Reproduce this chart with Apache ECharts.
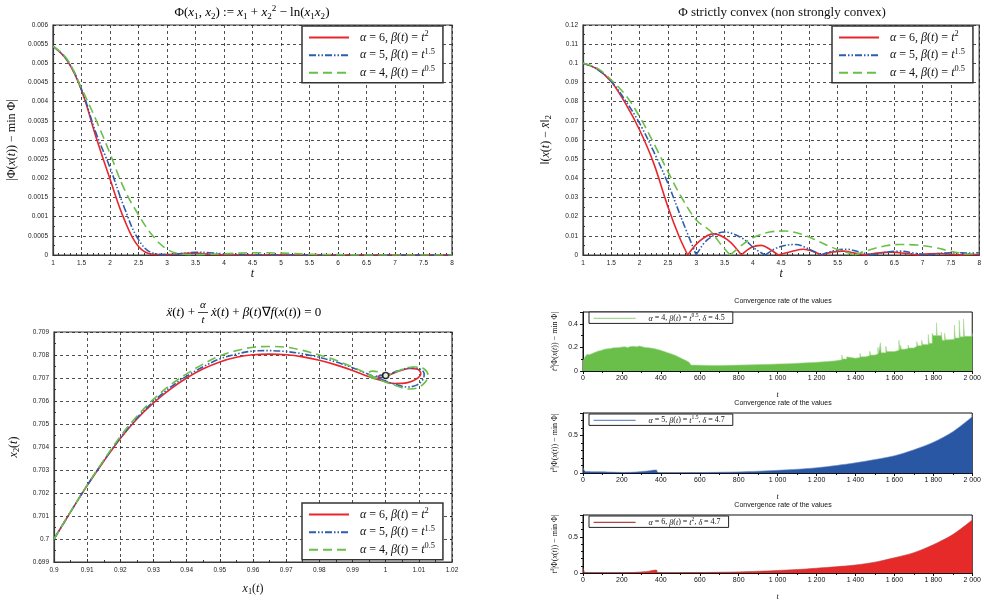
<!DOCTYPE html>
<html>
<head>
<meta charset="utf-8">
<title>Convergence figures</title>
<script src="https://cdn.jsdelivr.net/npm/echarts@6/dist/echarts.min.js"></script>
<style>
  html, body { margin: 0; padding: 0; background: #fff; }
  #main { width: 984px; height: 602px; }
</style>
</head>
<body>
<div id="main"></div>
<script>
// ---------- data ----------
// top left: |Phi(x(t)) - min Phi|
const tPhi = [1, 1.25, 1.5, 1.75, 2, 2.25, 2.5, 2.75, 3, 3.25, 3.5, 3.75, 4, 4.5, 5, 5.5, 6, 6.5, 7, 7.5, 8];
const phiRed = [0.00545, 0.00507, 0.0043, 0.0031, 0.00198, 0.00093, 0.00022, 0.00002, 0.00001, 0.00004, 0.00005, 0.00002, 0, 0, 0, 0, 0, 0, 0, 0, 0];
const phiBlue = [0.00545, 0.00508, 0.00432, 0.0032, 0.00228, 0.00124, 0.0004, 0.00005, 0.00001, 0.00004, 0.00007, 0.00006, 0.00003, 0.00001, 0, 0, 0, 0, 0, 0, 0];
const phiGreen = [0.00545, 0.0051, 0.00435, 0.00354, 0.00265, 0.00172, 0.00105, 0.0005, 0.00015, 0.00003, 0.00001, 0.00002, 0.00003, 0.00006, 0.00005, 0.00002, 0.00001, 0, 0, 0, 0];

// top right: ||x(t) - xbar||_2 (zeros are cusps)
const tDistRed = [1, 1.25, 1.5, 1.75, 2, 2.25, 2.5, 2.7, 2.85, 3.05, 3.3, 3.55, 3.8, 3.98, 4.15, 4.3, 4.45, 4.7, 4.9, 5.05, 5.22, 5.4, 5.6, 5.8, 6.0, 6.2, 6.45, 6.7, 6.9, 7.1, 7.3, 7.5, 7.7, 7.9, 8];
const distRed = [0.1, 0.097, 0.0904, 0.0791, 0.0652, 0.0478, 0.0252, 0.0095, 0, 0.007, 0.011, 0.008, 0, 0.004, 0.005, 0.003, 0, 0.002, 0.003, 0.002, 0, 0.0015, 0.002, 0.001, 0, 0.001, 0.0015, 0.0008, 0, 0.0006, 0.0008, 0.0004, 0, 0.0003, 0.0003];
const tDistBlue = [1, 1.25, 1.5, 1.75, 2, 2.25, 2.5, 2.75, 3.0, 3.2, 3.5, 3.8, 4.05, 4.22, 4.45, 4.75, 5.0, 5.2, 5.4, 5.65, 5.9, 6.1, 6.35, 6.6, 6.85, 7.1, 7.35, 7.6, 7.8, 8];
const distBlue = [0.1, 0.097, 0.0906, 0.0805, 0.0687, 0.0539, 0.0374, 0.0183, 0, 0.008, 0.012, 0.009, 0.003, 0, 0.004, 0.0055, 0.003, 0, 0.002, 0.003, 0.0015, 0, 0.0015, 0.002, 0.001, 0, 0.001, 0.0012, 0.001, 0.0012];
const tDistGreen = [1, 1.25, 1.5, 1.75, 2, 2.25, 2.5, 2.75, 3.0, 3.25, 3.45, 3.6, 3.8, 4.0, 4.3, 4.57, 4.85, 5.1, 5.4, 5.8, 6.1, 6.35, 6.6, 6.9, 7.2, 7.5, 7.8, 8];
const distGreen = [0.1, 0.0975, 0.0913, 0.0835, 0.0722, 0.0583, 0.0435, 0.0296, 0.0183, 0.0125, 0.005, 0, 0.005, 0.009, 0.012, 0.0125, 0.011, 0.008, 0.004, 0, 0.003, 0.0048, 0.0055, 0.0052, 0.004, 0.002, 0.0005, 0.001];

// bottom left: trajectories (x1(t), x2(t))
const x1Red = [0.9, 0.905, 0.91, 0.915, 0.92, 0.925, 0.93, 0.935, 0.94, 0.945, 0.95, 0.955, 0.96, 0.965, 0.97, 0.975, 0.98, 0.985, 0.99, 0.995, 0.9985, 1.0026, 1.0066, 1.0091, 1.0106, 1.0096, 1.0071, 1.0041, 1.0006, 0.9985, 0.9978, 0.9992, 1.0];
const x2Red = [0.7, 0.70118, 0.70232, 0.70338, 0.70437, 0.70522, 0.70592, 0.70651, 0.707, 0.7074, 0.7077, 0.7079, 0.70801, 0.70804, 0.70801, 0.70792, 0.70777, 0.70757, 0.70733, 0.70705, 0.7069, 0.70676, 0.7068, 0.70694, 0.70719, 0.70738, 0.70741, 0.7073, 0.70711, 0.70702, 0.70706, 0.70713, 0.70711];
const x1Blue = [0.9, 0.905, 0.91, 0.915, 0.92, 0.925, 0.93, 0.935, 0.94, 0.945, 0.95, 0.955, 0.96, 0.965, 0.97, 0.975, 0.98, 0.985, 0.99, 0.995, 0.999, 1.003, 1.0066, 1.0095, 1.0113, 1.0116, 1.0105, 1.008, 1.0045, 1.001, 0.998, 0.9965, 0.998, 1.0];
const x2Blue = [0.7, 0.70118, 0.70233, 0.7034, 0.7044, 0.70526, 0.70598, 0.70659, 0.70708, 0.70749, 0.70783, 0.70804, 0.70817, 0.70819, 0.70815, 0.70805, 0.7079, 0.7077, 0.70745, 0.70715, 0.70692, 0.70672, 0.70661, 0.7067, 0.70695, 0.70719, 0.70738, 0.70745, 0.70735, 0.70716, 0.707, 0.707, 0.70712, 0.70711];
const x1Green = [0.9, 0.905, 0.91, 0.915, 0.92, 0.925, 0.93, 0.935, 0.94, 0.945, 0.95, 0.955, 0.96, 0.965, 0.97, 0.975, 0.98, 0.985, 0.99, 0.995, 0.999, 1.003, 1.007, 1.0095, 1.0118, 1.0128, 1.0115, 1.0085, 1.0045, 1.0, 0.9965, 0.9945, 0.996, 0.999, 1.0];
const x2Green = [0.7, 0.70119, 0.70235, 0.70343, 0.70446, 0.70534, 0.70608, 0.70669, 0.70718, 0.70761, 0.70796, 0.70819, 0.70834, 0.70837, 0.70834, 0.7082, 0.708, 0.70777, 0.70748, 0.70715, 0.70688, 0.70667, 0.70652, 0.70656, 0.7068, 0.7071, 0.7074, 0.70748, 0.70735, 0.70708, 0.70698, 0.70718, 0.7073, 0.70722, 0.70711];
const limitPoint = [1.0, 0.70711];

// bottom right: t^delta |Phi(x(t)) - min Phi|
const tRateGreen = [0, 10, 20, 35, 50, 65, 80, 95, 110, 125, 140, 155, 170, 185, 200, 215, 230, 245, 260, 275, 290, 305, 320, 335, 350, 365, 380, 395, 410, 425, 440, 455, 470, 485, 500, 515, 530, 545, 555, 575, 620, 680, 740, 800, 860, 900, 960, 1000, 1050, 1100, 1150, 1200, 1250, 1297, 1300, 1330, 1334, 1355, 1359, 1400, 1423, 1427, 1450, 1473, 1478, 1500, 1515, 1519, 1528, 1532, 1556, 1561, 1600, 1623, 1628, 1632, 1636, 1650, 1670, 1675, 1700, 1715, 1720, 1740, 1745, 1774, 1779, 1794, 1800, 1816, 1820, 1841, 1846, 1858, 1863, 1880, 1908, 1913, 1933, 1938, 1955, 1960, 2000];
const rateGreen = [0.08, 0.12, 0.14, 0.15, 0.16, 0.17, 0.175, 0.185, 0.188, 0.19, 0.196, 0.198, 0.2, 0.203, 0.205, 0.2, 0.208, 0.21, 0.205, 0.212, 0.205, 0.2, 0.198, 0.194, 0.19, 0.184, 0.178, 0.17, 0.162, 0.153, 0.145, 0.135, 0.124, 0.112, 0.1, 0.088, 0.075, 0.062, 0.05, 0.048, 0.047, 0.048, 0.05, 0.052, 0.055, 0.057, 0.06, 0.062, 0.066, 0.07, 0.074, 0.08, 0.086, 0.1, 0.095, 0.135, 0.102, 0.12, 0.108, 0.115, 0.15, 0.12, 0.13, 0.168, 0.135, 0.145, 0.2, 0.15, 0.24, 0.155, 0.21, 0.165, 0.175, 0.26, 0.18, 0.22, 0.185, 0.19, 0.22, 0.195, 0.21, 0.25, 0.215, 0.26, 0.225, 0.31, 0.235, 0.32, 0.3, 0.41, 0.3, 0.33, 0.26, 0.32, 0.265, 0.27, 0.39, 0.28, 0.43, 0.29, 0.44, 0.295, 0.32];
const tRate = [0, 3, 8, 15, 50, 100, 150, 200, 250, 300, 340, 370, 378, 382, 390, 450, 500, 600, 700, 800, 900, 1000, 1100, 1200, 1300, 1400, 1500, 1600, 1700, 1800, 1900, 2000];
const rateBlue = [0.07, 0.07, 0.03, 0.02, 0.018, 0.016, 0.012, 0.008, 0.01, 0.02, 0.03, 0.04, 0.04, 0.015, 0.005, 0.004, 0.004, 0.006, 0.01, 0.015, 0.024, 0.036, 0.05, 0.07, 0.1, 0.136, 0.18, 0.23, 0.31, 0.41, 0.55, 0.75];
const rateRed = [0.07, 0.07, 0.01, 0.005, 0.005, 0.004, 0.004, 0.004, 0.006, 0.015, 0.025, 0.04, 0.04, 0.01, 0.003, 0.003, 0.004, 0.006, 0.01, 0.015, 0.024, 0.035, 0.048, 0.066, 0.086, 0.11, 0.15, 0.21, 0.28, 0.39, 0.53, 0.73];

const seriesNames = ['α = 6, β(t) = t^2', 'α = 5, β(t) = t^1.5', 'α = 4, β(t) = t^0.5'];
const alphas = ['6', '5', '4'];
const betaExps = ['2', '1.5', '0.5'];
const rateNames = ['α = 4, β(t) = t^0.5, δ = 4.5', 'α = 5, β(t) = t^1.5, δ = 4.7', 'α = 6, β(t) = t^2, δ = 4.7'];
const deltas = ['4.5', '4.7', '4.7'];
const rateAlphaIdx = [2, 1, 0];

// ---------- styling ----------
const SERIF = 'Liberation Serif';
const SANS = 'Liberation Sans';
const RED = '#e8262c', BLUE = '#2d5eae', GREEN = '#6abf4a';
const lineColors = [RED, BLUE, GREEN];
const lineDash = ['solid', [7, 2, 1.5, 2, 1.5, 2], [9, 5]];

function math(size) {
  return {
    i: { fontFamily: SERIF, fontStyle: 'italic', fontSize: size, color: '#111' },
    r: { fontFamily: SERIF, fontSize: size, color: '#111' },
    sub: { fontFamily: SERIF, fontSize: size * 0.7, padding: [size * 0.5, 0, 0, 0], color: '#111' },
    sup: { fontFamily: SERIF, fontSize: size * 0.7, padding: [0, 0, size * 0.6, 0], color: '#111' },
    isup: { fontFamily: SERIF, fontStyle: 'italic', fontSize: size * 0.7, padding: [0, 0, size * 0.6, 0], color: '#111' }
  };
}

function legendText(i) {
  return '{i|α}{r| = ' + alphas[i] + ', }{i|β}{r|(}{i|t}{r|) = }{i|t}{sup|' + betaExps[i] + '}';
}
function rateText(k) {
  const i = rateAlphaIdx[k];
  return '{i|α}{r| = ' + alphas[i] + ', }{i|β}{r|(}{i|t}{r|) = }{i|t}{sup|' + betaExps[i] + '}{r|, }{i|δ}{r| = ' + deltas[k] + '}';
}

const pairs = (xs, ys) => xs.map((x, i) => [x, ys[i]]);
// break the line at each zero so the |.| cusps stay sharp
function cusps(xs, ys) {
  const out = [];
  ys.forEach((y, i) => {
    out.push([xs[i], y]);
    if (y === 0 && i > 0 && i < ys.length - 1) {
      out.push([xs[i], '-']);
      out.push([xs[i], y]);
    }
  });
  return out;
}
const spaced = v => String(v).replace(/\B(?=(\d{3})+(?!\d))/g, ' ');

const FRAME = '#3a3a3a';
const gridLine = { show: true, lineStyle: { type: [3, 3], color: '#222', width: 0.8 } };

function topAxis(gridIndex, min, max, interval, minorSplit, name, nameGap) {
  return {
    gridIndex, type: 'value', min, max, interval,
    axisLine: { show: true, onZero: false, lineStyle: { color: FRAME, width: 1.2 } },
    axisTick: { show: true, inside: true, length: 3, lineStyle: { color: '#333' } },
    minorTick: { show: true, splitNumber: minorSplit, length: 2, lineStyle: { color: '#333' } },
    axisLabel: { fontFamily: SANS, fontSize: 6.5, color: '#222', margin: 5 },
    splitLine: gridLine,
    name, nameLocation: 'middle', nameGap,
    nameTextStyle: { rich: math(12) }
  };
}

function rateXAxis(gridIndex) {
  return {
    gridIndex, type: 'value', min: 0, max: 2000, interval: 200,
    axisLine: { show: true, onZero: false, lineStyle: { color: '#111', width: 1 } },
    axisTick: { show: true, length: 3, lineStyle: { color: '#111' } },
    minorTick: { show: true, splitNumber: 2, length: 2, lineStyle: { color: '#111' } },
    axisLabel: { fontFamily: SANS, fontSize: 7, color: '#111', margin: 4, formatter: spaced },
    splitLine: { show: false },
    name: '{i|t}', nameLocation: 'middle', nameGap: 20,
    nameTextStyle: { rich: math(8) }
  };
}
function rateYAxis(gridIndex, max, interval, minorSplit) {
  return {
    gridIndex, type: 'value', min: 0, max, interval,
    axisLine: { show: true, onZero: false, lineStyle: { color: '#111', width: 1 } },
    axisTick: { show: true, length: 3, lineStyle: { color: '#111' } },
    minorTick: { show: true, splitNumber: minorSplit, length: 2, lineStyle: { color: '#111' } },
    axisLabel: { fontFamily: SANS, fontSize: 7, color: '#111', margin: 5, showMaxLabel: false },
    splitLine: { show: false },
    name: '{i|t}{isup|δ}{r||Φ(}{i|x}{r|(}{i|t}{r|)) − min Φ|}',
    nameLocation: 'middle', nameGap: 23,
    nameTextStyle: { rich: math(8) }
  };
}

const bigGrid = { show: true, borderColor: FRAME, borderWidth: 1.2, backgroundColor: '#fff' };
const smallGrid = { show: true, borderColor: '#111', borderWidth: 1, backgroundColor: '#fff' };

const grids = [
  Object.assign({ left: 53, top: 25, width: 399, height: 230 }, bigGrid),
  Object.assign({ left: 583, top: 25, width: 399, height: 230 }, bigGrid),
  Object.assign({ left: 54, top: 332, width: 398, height: 230 }, bigGrid),
  Object.assign({ left: 583, top: 312, width: 400, height: 59 }, smallGrid),
  Object.assign({ left: 583, top: 413, width: 400, height: 60 }, smallGrid),
  Object.assign({ left: 583, top: 515, width: 400, height: 61 }, smallGrid)
];

const xAxes = [
  topAxis(0, 1, 8, 0.5, 5, '{i|t}', 13),
  topAxis(1, 1, 8, 0.5, 5, '{i|t}', 13),
  topAxis(2, 0.9, 1.02, 0.01, 2, '{i|x}{sub|1}{r|(}{i|t}{r|)}', 20),
  rateXAxis(3), rateXAxis(4), rateXAxis(5)
];
const yAxes = [
  topAxis(0, 0, 0.006, 0.0005, 2, '{r||Φ(}{i|x}{r|(}{i|t}{r|)) − min Φ|}', 35),
  topAxis(1, 0, 0.12, 0.01, 2, '{r|‖(}{i|x}{r|(}{i|t}{r|) − }{i|x̄}{r|‖}{sub|2}', 30),
  topAxis(2, 0.699, 0.709, 0.001, 2, '{i|x}{sub|2}{r|(}{i|t}{r|)}', 33),
  rateYAxis(3, 0.5, 0.2, 2), rateYAxis(4, 0.8, 0.5, 5), rateYAxis(5, 0.8, 0.5, 5)
];

function curve(idx, axis, data, smooth) {
  return {
    name: seriesNames[idx], type: 'line', xAxisIndex: axis, yAxisIndex: axis,
    data, smooth, symbol: 'none', connectNulls: false, z: 3 + idx,
    lineStyle: { color: lineColors[idx], width: 1.6, type: lineDash[idx] },
    itemStyle: { color: lineColors[idx] }
  };
}
function rateSeries(k, axis, data, fill, legendLine, step, smooth) {
  return {
    name: rateNames[k], type: 'line', xAxisIndex: axis, yAxisIndex: axis,
    data, symbol: 'none', step, smooth,
    lineStyle: { color: legendLine, width: 0.6 },
    itemStyle: { color: legendLine },
    areaStyle: { color: fill, opacity: 1 }
  };
}

const series = [
  curve(0, 0, pairs(tPhi, phiRed), 0.4),
  curve(1, 0, pairs(tPhi, phiBlue), 0.4),
  curve(2, 0, pairs(tPhi, phiGreen), 0.4),
  curve(0, 1, cusps(tDistRed, distRed), 0.35),
  curve(1, 1, cusps(tDistBlue, distBlue), 0.35),
  curve(2, 1, cusps(tDistGreen, distGreen), 0.35),
  curve(0, 2, pairs(x1Red, x2Red), 0.35),
  curve(1, 2, pairs(x1Blue, x2Blue), 0.35),
  curve(2, 2, pairs(x1Green, x2Green), 0.35),
  {
    type: 'scatter', xAxisIndex: 2, yAxisIndex: 2, data: [limitPoint], z: 10,
    symbol: 'circle', symbolSize: 6,
    itemStyle: { color: '#fff', borderColor: '#000', borderWidth: 1.5 }
  },
  rateSeries(0, 3, pairs(tRateGreen, rateGreen), GREEN, '#a6d894', 'end', false),
  rateSeries(1, 4, pairs(tRate, rateBlue), '#2a57a3', '#7090c8', false, 0.3),
  rateSeries(2, 5, pairs(tRate, rateRed), '#e62a2a', '#b34444', false, 0.3)
];

// hide the legend's symbol marker, keep only the line sample
const noMarker = { color: 'transparent', borderColor: 'transparent', borderWidth: 0, opacity: 0 };

const bigLegend = (left, top) => ({
  data: seriesNames.slice(), left, top, orient: 'vertical',
  backgroundColor: '#fff', borderColor: '#333', borderWidth: 1.5,
  padding: [4, 8, 4, 6], itemGap: 4, itemWidth: 40, itemHeight: 14,
  selectedMode: false,
  itemStyle: noMarker,
  formatter: name => legendText(seriesNames.indexOf(name)),
  textStyle: { rich: math(12), padding: [0, 0, 0, 6] }
});
const smallLegend = (k, left, top) => ({
  data: [rateNames[k]], left, top, orient: 'vertical',
  backgroundColor: '#fff', borderColor: '#222', borderWidth: 1,
  padding: [1, 8, 1, 4], itemWidth: 42, itemHeight: 10,
  selectedMode: false,
  itemStyle: noMarker,
  lineStyle: { width: 1.2 },
  formatter: () => rateText(k),
  textStyle: { rich: math(8), padding: [0, 0, 0, 8] }
});

const titleRich = math(13);
const graphic = [
  { type: 'text', x: 252, y: 13, style: {
      text: '{r|Φ(}{i|x}{sub|1}{r|, }{i|x}{sub|2}{r|) := }{i|x}{sub|1}{r| + }{i|x}{sub|2}{sup|2}{r| − ln(}{i|x}{sub|1}{i|x}{sub|2}{r|)}',
      rich: titleRich, align: 'center', verticalAlign: 'middle' } },
  { type: 'text', x: 782, y: 13, style: {
      text: 'Φ strictly convex (non strongly convex)',
      fontFamily: SERIF, fontSize: 13, fill: '#111', align: 'center', verticalAlign: 'middle' } },
  // differential equation title with a stacked alpha / t fraction
  { type: 'text', x: 195, y: 313, style: {
      text: '{i|x\u0308}{r|(}{i|t}{r|) +}', rich: titleRich, align: 'right', verticalAlign: 'middle' } },
  { type: 'text', x: 203, y: 305, style: {
      text: '{i|α}', rich: math(11), align: 'center', verticalAlign: 'middle' } },
  { type: 'line', shape: { x1: 198, y1: 312.5, x2: 208, y2: 312.5 }, style: { stroke: '#111', lineWidth: 0.8 } },
  { type: 'text', x: 203, y: 320, style: {
      text: '{i|t}', rich: math(11), align: 'center', verticalAlign: 'middle' } },
  { type: 'text', x: 211, y: 313, style: {
      text: '{i|ẋ}{r|(}{i|t}{r|) + }{i|β}{r|(}{i|t}{r|)∇}{i|f}{r|(}{i|x}{r|(}{i|t}{r|)) = 0}',
      rich: titleRich, align: 'left', verticalAlign: 'middle' } },
  { type: 'text', x: 783, y: 301, style: { text: 'Convergence rate of the values', fontFamily: SANS, fontSize: 7, fill: '#111', align: 'center', verticalAlign: 'middle' } },
  { type: 'text', x: 783, y: 403, style: { text: 'Convergence rate of the values', fontFamily: SANS, fontSize: 7, fill: '#111', align: 'center', verticalAlign: 'middle' } },
  { type: 'text', x: 783, y: 505, style: { text: 'Convergence rate of the values', fontFamily: SANS, fontSize: 7, fill: '#111', align: 'center', verticalAlign: 'middle' } }
];

const chart = echarts.init(document.getElementById('main'), null, { renderer: 'canvas' });
chart.setOption({
  animation: false,
  backgroundColor: '#fff',
  grid: grids,
  xAxis: xAxes,
  yAxis: yAxes,
  legend: [
    bigLegend(302, 26), bigLegend(832, 26), bigLegend(302, 503),
    smallLegend(0, 589, 312), smallLegend(1, 589, 414), smallLegend(2, 589, 516)
  ],
  graphic,
  series
});
</script>
</body>
</html>
